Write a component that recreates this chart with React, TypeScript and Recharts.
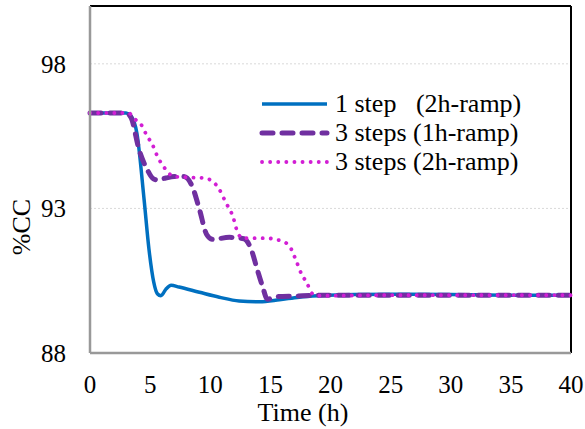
import { CartesianGrid, Line, LineChart, ReferenceLine, XAxis, YAxis } from "recharts";

const FONT = "Times New Roman";

// 1 step (2h-ramp)
const oneStepTime = [0, 3.0, 3.4, 3.9, 4.5, 4.9, 5.3, 5.6, 5.9, 6.3, 6.75, 7.4, 9.1, 10.75, 12.4, 14.1, 15.75, 17.4, 19.1, 22, 25, 30, 35, 40];
const oneStepCC = [96.3, 96.3, 96.2, 95.6, 93.3, 91.6, 90.45, 90.05, 89.98, 90.2, 90.34, 90.28, 90.1, 89.93, 89.8, 89.77, 89.84, 89.93, 89.98, 90.02, 90.03, 90.02, 90.0, 90.0];

// 3 steps (1h-ramp)
const threeStep1hTime = [0, 3.0, 3.4, 4.1, 4.75, 5.2, 5.6, 6.3, 7.0, 7.8, 8.5, 9.1, 9.7, 10.2, 11.6, 12.8, 13.4, 13.9, 14.35, 14.75, 15.5, 17, 20, 30, 40];
const threeStep1hCC = [96.3, 96.3, 96.15, 95.0, 94.35, 94.05, 93.98, 94.05, 94.1, 94.1, 93.76, 92.97, 92.1, 91.93, 92.0, 91.95, 91.59, 90.9, 90.3, 89.86, 89.95, 89.97, 90.0, 90.0, 90.0];

// 3 steps (2h-ramp)
const threeStep2hTime = [0, 3.2, 3.7, 4.25, 4.75, 5.2, 5.5, 5.8, 6.2, 6.5, 7.0, 8.4, 9.5, 10.3, 10.75, 11.3, 11.9, 12.25, 12.7, 14.6, 16.0, 16.6, 17.1, 17.6, 18.0, 18.5, 19.1, 25, 40];
const threeStep2hCC = [96.3, 96.3, 96.1, 95.9, 95.5, 95.2, 94.9, 94.65, 94.4, 94.24, 94.1, 94.07, 94.05, 93.9, 93.66, 93.2, 92.7, 92.2, 91.97, 91.97, 91.86, 91.69, 91.24, 90.72, 90.45, 90.05, 89.98, 90.0, 90.0];

const xTicks = [0, 5, 10, 15, 20, 25, 30, 35, 40];
const yTicks = [88, 93, 98];

const BLUE = "#0070C0";
const PURPLE = "#7030A0";
const MAGENTA = "#D21ED4";

const toRows = (t: number[], v: number[]) => t.map((x, i) => ({ t: x, v: v[i] }));

const series = [
  { name: "1 step   (2h-ramp)", data: toRows(oneStepTime, oneStepCC), color: BLUE, width: 3.5, dash: undefined as string | undefined, cap: "butt" },
  { name: "3 steps (1h-ramp)", data: toRows(threeStep1hTime, threeStep1hCC), color: PURPLE, width: 5, dash: "11 9", cap: "round" },
  { name: "3 steps (2h-ramp)", data: toRows(threeStep2hTime, threeStep2hCC), color: MAGENTA, width: 3.8, dash: "0.1 8", cap: "round" },
];

const tickStyle = { fill: "#000", fontSize: 25, fontFamily: FONT, style: { fontFamily: FONT } };

// legend sits inside the plot, top right
function LegendBox() {
  return (
    <div style={{ position: "absolute", left: 259, top: 89, fontFamily: FONT, fontSize: 26, color: "#000", lineHeight: "29px" }}>
      {series.map((s) => (
        <div key={s.name} style={{ display: "flex", alignItems: "center", height: 29 }}>
          <svg width={76} height={12}>
            <line
              x1={3}
              y1={6}
              x2={68}
              y2={6}
              stroke={s.color}
              strokeWidth={s.width}
              strokeDasharray={s.dash}
              strokeLinecap={s.cap as any}
            />
          </svg>
          <span style={{ whiteSpace: "pre", fontFamily: FONT }}>{s.name}</span>
        </div>
      ))}
    </div>
  );
}

export default function App() {
  return (
    <div style={{ position: "absolute", left: 0, top: 0, width: 585, height: 429, background: "#fff", fontFamily: FONT }}>
      <LineChart width={585} height={429} margin={{ top: 6, right: 14, bottom: 0, left: 0 }} style={{ fontFamily: FONT }}>
        <CartesianGrid vertical={false} stroke="#d9d9d9" strokeDasharray="2 2" />
        <XAxis
          dataKey="t"
          type="number"
          domain={[0, 40]}
          ticks={xTicks}
          height={76}
          tickLine={false}
          tickMargin={16}
          axisLine={{ stroke: "#999", strokeWidth: 2.5 }}
          tick={tickStyle}
          allowDuplicatedCategory={false}
          label={{
            content: () => (
              <text x={303} y={412} textAnchor="middle" dominantBaseline="central" fontSize={26} fontFamily={FONT} style={{ fontFamily: FONT }} fill="#000">
                Time (h)
              </text>
            ),
          }}
        />
        <YAxis
          type="number"
          domain={[88, 100]}
          ticks={yTicks}
          width={90}
          tickLine={false}
          tickMargin={18}
          axisLine={{ stroke: "#999", strokeWidth: 2.5 }}
          tick={tickStyle}
          label={{
            content: () => (
              <text
                x={21}
                y={227}
                transform="rotate(-90 21 227)"
                textAnchor="middle"
                dominantBaseline="central"
                fontSize={26}
                fontFamily={FONT}
                style={{ fontFamily: FONT }}
                fill="#000"
              >
                %CC
              </text>
            ),
          }}
        />
        <ReferenceLine y={100} stroke="#000" strokeWidth={2} />
        <ReferenceLine x={40} stroke="#000" strokeWidth={2} />
        {series.map((s) => (
          <Line
            key={s.name}
            data={s.data}
            dataKey="v"
            name={s.name}
            type="monotone"
            stroke={s.color}
            strokeWidth={s.width}
            strokeDasharray={s.dash}
            strokeLinecap={s.cap as any}
            dot={false}
            activeDot={false}
            isAnimationActive={false}
          />
        ))}
      </LineChart>
      <LegendBox />
    </div>
  );
}
